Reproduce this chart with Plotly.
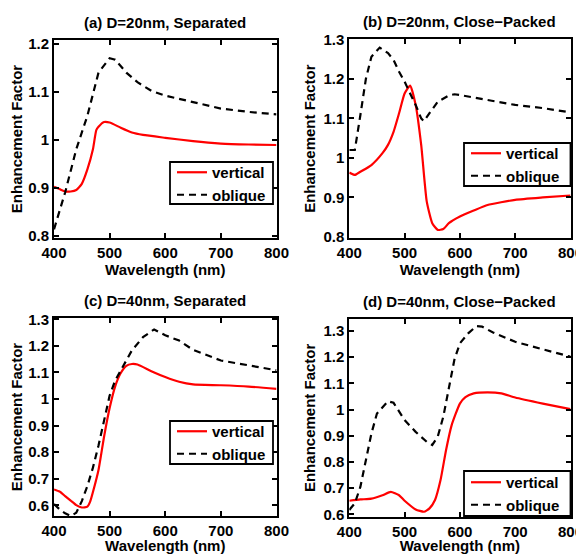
import plotly.graph_objects as go

# ---------------- data ----------------
# (a) D=20nm, Separated
wl_a_vert = [400, 410, 420, 430, 440, 450, 460, 470, 476, 480, 490, 500, 520, 540, 560, 600, 650, 700, 750, 800]
ef_a_vert = [0.902, 0.897, 0.892, 0.892, 0.895, 0.908, 0.938, 0.980, 1.020, 1.027, 1.037, 1.036, 1.025, 1.015, 1.010, 1.004, 0.997, 0.992, 0.990, 0.989]
wl_a_obl = [400, 420, 440, 460, 480, 490, 500, 510, 530, 550, 575, 600, 650, 700, 750, 800]
ef_a_obl = [0.813, 0.890, 0.980, 1.050, 1.140, 1.156, 1.170, 1.167, 1.140, 1.120, 1.102, 1.092, 1.078, 1.065, 1.058, 1.053]

# (b) D=20nm, Close-Packed
wl_b_vert = [400, 410, 420, 440, 460, 470, 480, 490, 500, 510, 520, 530, 540, 550, 560, 570, 580, 600, 625, 650, 700, 750, 800]
ef_b_vert = [0.963, 0.957, 0.965, 0.982, 1.012, 1.033, 1.066, 1.113, 1.163, 1.183, 1.134, 1.033, 0.890, 0.835, 0.818, 0.820, 0.835, 0.852, 0.867, 0.881, 0.894, 0.900, 0.905]
wl_b_obl = [400, 410, 420, 430, 440, 450, 455, 470, 480, 490, 500, 510, 520, 530, 535, 545, 560, 580, 590, 600, 650, 700, 750, 800]
ef_b_obl = [1.020, 1.020, 1.108, 1.200, 1.256, 1.273, 1.279, 1.265, 1.248, 1.218, 1.193, 1.163, 1.134, 1.100, 1.093, 1.113, 1.142, 1.158, 1.161, 1.159, 1.147, 1.134, 1.126, 1.115]

# (c) D=40nm, Separated
wl_c_vert = [400, 410, 420, 430, 440, 450, 460, 465, 470, 480, 490, 500, 510, 520, 530, 540, 550, 575, 600, 625, 650, 700, 750, 800]
ef_c_vert = [0.660, 0.652, 0.635, 0.618, 0.601, 0.592, 0.595, 0.614, 0.650, 0.733, 0.858, 0.966, 1.048, 1.098, 1.125, 1.132, 1.130, 1.105, 1.083, 1.065, 1.055, 1.052, 1.047, 1.038]
wl_c_obl = [400, 410, 420, 430, 440, 450, 460, 470, 480, 490, 500, 510, 520, 530, 540, 560, 580, 600, 625, 650, 700, 750, 800]
ef_c_obl = [0.605, 0.585, 0.570, 0.560, 0.572, 0.616, 0.673, 0.742, 0.825, 0.919, 1.013, 1.070, 1.108, 1.145, 1.183, 1.233, 1.262, 1.240, 1.220, 1.185, 1.145, 1.127, 1.108]

# (d) D=40nm, Close-Packed
wl_d_vert = [400, 420, 440, 460, 475, 490, 500, 520, 535, 545, 555, 565, 575, 585, 600, 610, 625, 650, 675, 700, 750, 800]
ef_d_vert = [0.652, 0.657, 0.660, 0.673, 0.686, 0.673, 0.652, 0.619, 0.610, 0.623, 0.655, 0.731, 0.846, 0.940, 1.023, 1.048, 1.062, 1.066, 1.062, 1.046, 1.023, 1.002]
wl_d_obl = [400, 410, 420, 430, 440, 450, 460, 470, 480, 490, 500, 520, 540, 550, 560, 570, 580, 590, 600, 615, 630, 640, 660, 700, 750, 800]
ef_d_obl = [0.617, 0.642, 0.705, 0.807, 0.909, 0.985, 1.008, 1.032, 1.026, 0.992, 0.960, 0.915, 0.877, 0.865, 0.897, 0.973, 1.088, 1.190, 1.253, 1.291, 1.319, 1.317, 1.294, 1.259, 1.230, 1.202]

titles = ["(a) D=20nm, Separated", "(b) D=20nm, Close\u2212Packed",
          "(c) D=40nm, Separated", "(d) D=40nm, Close\u2212Packed"]
series_names = ["vertical", "oblique"]
x_ticks = [400, 500, 600, 700, 800]
x_ticktext = ["400", "500", "600", "700", "800"]
y_ticks_a = [0.8, 0.9, 1.0, 1.1, 1.2]
y_ticktext_a = ["0.8", "0.9", "1", "1.1", "1.2"]
y_ticks_b = [0.8, 0.9, 1.0, 1.1, 1.2, 1.3]
y_ticktext_b = ["0.8", "0.9", "1", "1.1", "1.2", "1.3"]
y_ticks_cd = [0.6, 0.7, 0.8, 0.9, 1.0, 1.1, 1.2, 1.3]
y_ticktext_cd = ["0.6", "0.7", "0.8", "0.9", "1", "1.1", "1.2", "1.3"]
x_label = "Wavelength (nm)"
y_label = "Enhancement Factor"

# ---------------- figure ----------------
# the page body has an 8px margin, so the figure is shrunk by that much and
# layout positions (given in window pixels) are shifted back by it
OFF = 8
W, H = 584 - OFF, 554 - OFF
FONT = "Liberation Sans, Arial, Helvetica, sans-serif"

def px(x):
    return (x - OFF) / W

def py(y):
    return 1 - (y - OFF) / H

panels = [
    dict(vx=wl_a_vert, vy=ef_a_vert, ox=wl_a_obl, oy=ef_a_obl,
         xd=[px(54), px(276.5)], yd=[py(238), py(40)], yr=[0.795, 1.208],
         yt=y_ticks_a, ytt=y_ticktext_a, box=(170, 162, 273, 204), leg=(172, 156)),
    dict(vx=wl_b_vert, vy=ef_b_vert, ox=wl_b_obl, oy=ef_b_obl,
         xd=[px(349.3), px(570.5)], yd=[py(238), py(39.3)], yr=[0.7975, 1.3],
         yt=y_ticks_b, ytt=y_ticktext_b, box=(464, 143, 570.5, 186), leg=(466, 137)),
    dict(vx=wl_c_vert, vy=ef_c_vert, ox=wl_c_obl, oy=ef_c_obl,
         xd=[px(54), px(276.5)], yd=[py(516), py(318)], yr=[0.56, 1.305],
         yt=y_ticks_cd, ytt=y_ticktext_cd, box=(170, 421, 273, 464), leg=(172, 415)),
    dict(vx=wl_d_vert, vy=ef_d_vert, ox=wl_d_obl, oy=ef_d_obl,
         xd=[px(349.3), px(570.5)], yd=[py(517), py(318.7)], yr=[0.59, 1.347],
         yt=y_ticks_cd, ytt=y_ticktext_cd, box=(464, 471, 570.5, 516), leg=(466, 466)),
]

fig = go.Figure()
layout = dict(width=W, height=H, margin=dict(l=0, r=0, t=0, b=0, autoexpand=False),
              paper_bgcolor="white", plot_bgcolor="white",
              font=dict(family=FONT, color="black"), annotations=[], shapes=[])

tickfont = dict(family=FONT, size=15, color="black", weight="bold")
for i, p in enumerate(panels):
    n = "" if i == 0 else str(i + 1)
    xa, ya = "x" + n, "y" + n
    legname = "legend" + n
    fig.add_trace(go.Scatter(x=p["vx"], y=p["vy"], mode="lines", name=series_names[0],
                             line=dict(color="#ff0000", width=2.2, shape="spline", smoothing=0.5),
                             xaxis=xa, yaxis=ya, legend=legname))
    fig.add_trace(go.Scatter(x=p["ox"], y=p["oy"], mode="lines", name=series_names[1],
                             line=dict(color="black", width=2.2, dash="7px,5px"),
                             xaxis=xa, yaxis=ya, legend=legname))
    axcommon = dict(showline=True, linecolor="black", linewidth=1.8, mirror="ticks",
                    ticks="inside", ticklen=5, tickwidth=1.5, tickcolor="black",
                    showgrid=False, zeroline=False, tickfont=tickfont, automargin=False)
    layout["xaxis" + n] = dict(axcommon, domain=p["xd"], range=[400, 800], anchor=ya,
                               tickvals=x_ticks, ticktext=x_ticktext,
                               title=dict(text=x_label, standoff=0,
                                          font=dict(family=FONT, size=15, weight="bold", color="black")))
    layout["yaxis" + n] = dict(axcommon, domain=p["yd"], range=p["yr"], anchor=xa,
                               tickvals=p["yt"], ticktext=p["ytt"],
                               title=dict(text=y_label, standoff=4,
                                          font=dict(family=FONT, size=15, weight="bold", color="black")))
    layout[legname] = dict(x=px(p["leg"][0]), y=py(p["leg"][1]), xanchor="left", yanchor="top",
                           xref="paper", yref="paper",
                           bgcolor="rgba(0,0,0,0)", borderwidth=0,
                           font=dict(family=FONT, size=15, weight="bold", color="black"),
                           tracegroupgap=0, itemwidth=30)
    bx0, by0, bx1, by1 = p["box"]
    layout["shapes"].append(dict(type="rect", xref="paper", yref="paper", layer="above",
                                 x0=px(bx0), x1=px(bx1), y0=py(by1), y1=py(by0),
                                 fillcolor="white", line=dict(color="black", width=1.8)))
    layout["annotations"].append(dict(text=titles[i], x=(p["xd"][0] + p["xd"][1]) / 2,
                                      y=p["yd"][1], xref="paper", yref="paper",
                                      xanchor="center", yanchor="bottom", yshift=7, showarrow=False,
                                      font=dict(family=FONT, size=15, weight="bold", color="black")))

fig.update_layout(**layout)
fig.update_layout(showlegend=True)
fig.write_html("out.html")
